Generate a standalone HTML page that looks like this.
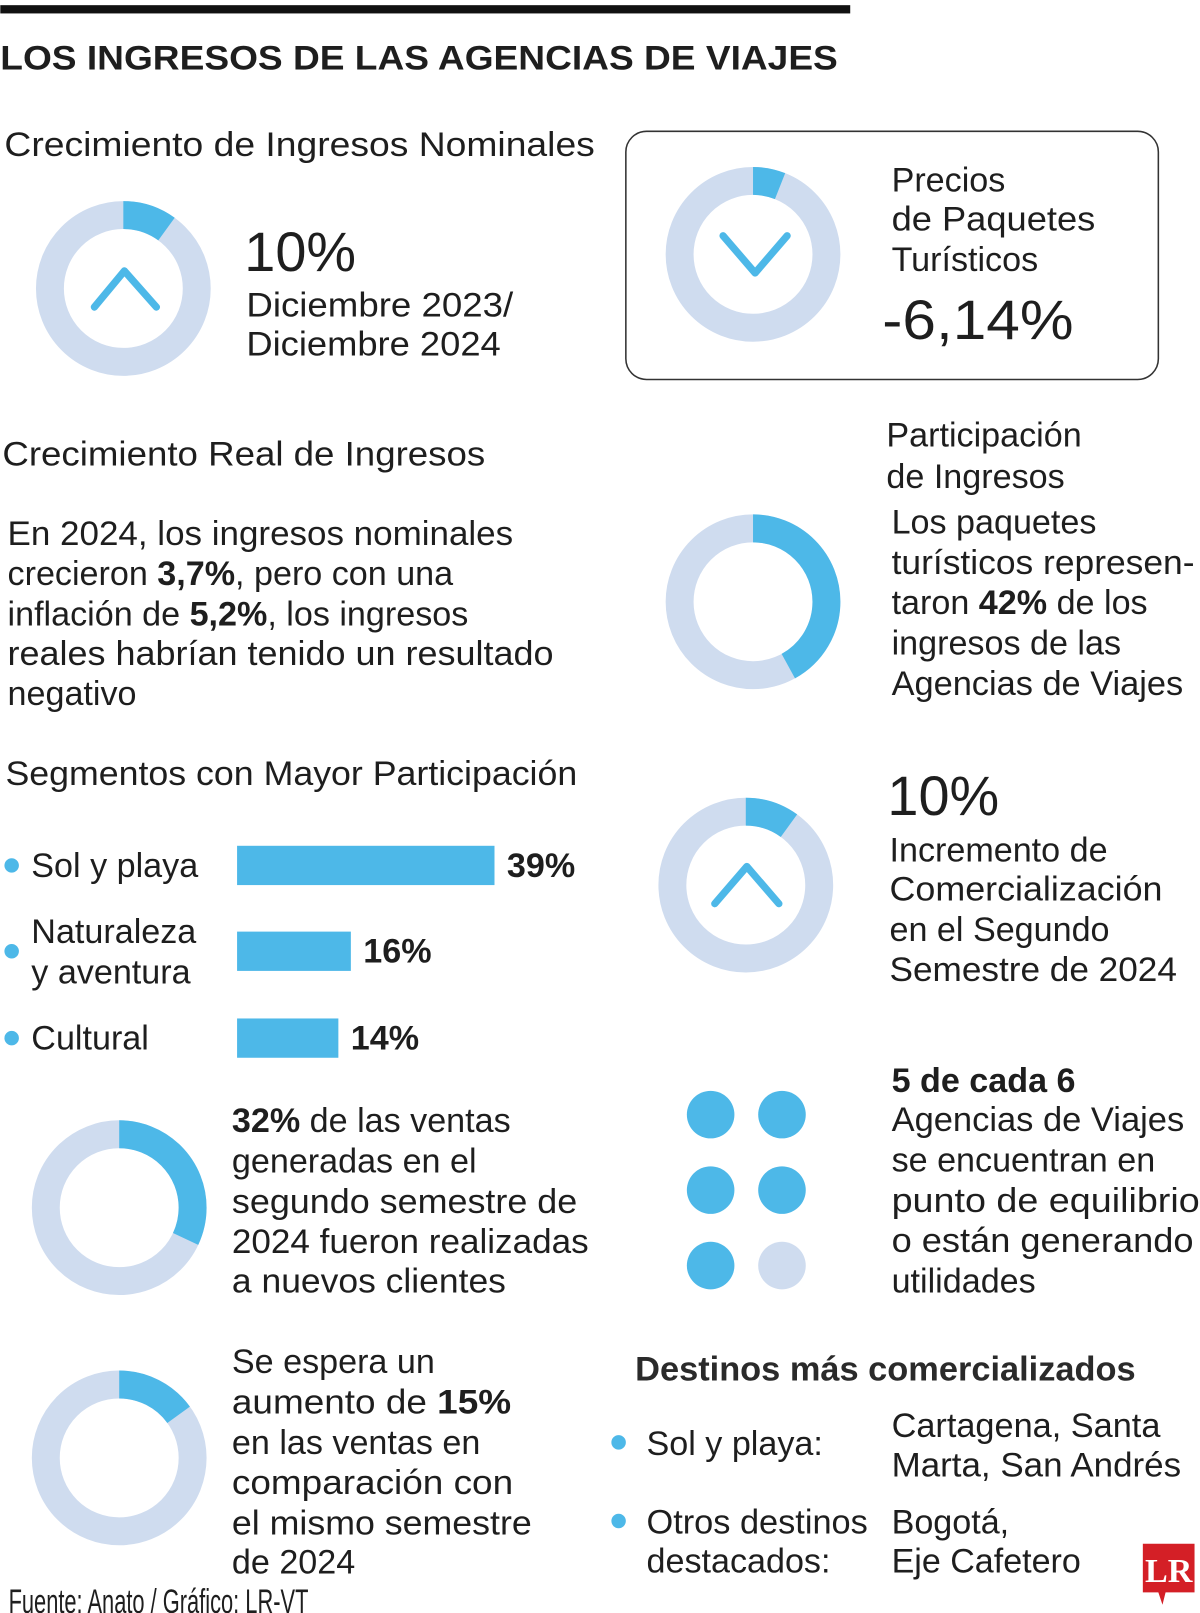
<!DOCTYPE html>
<html><head><meta charset="utf-8"><style>
html,body{margin:0;padding:0;background:#fff;}
svg{display:block;}
text{font-family:"Liberation Sans",sans-serif;fill:#1e1e1e;font-size:33px;}
.b{font-weight:bold;}
.big{font-size:54px;}
</style></head><body>
<svg id="chart" width="1200" height="1613" viewBox="0 0 1160 1560">
<rect x="0" y="5" width="822" height="8" fill="#111"/>
<text x="0" y="67" class="b" font-size="44" textLength="810" lengthAdjust="spacingAndGlyphs">LOS INGRESOS DE LAS AGENCIAS DE VIAJES</text>

<text x="4" y="151" textLength="571" lengthAdjust="spacingAndGlyphs">Crecimiento de Ingresos Nominales</text>
<g id="donuts"></g>
<polyline points="91,297 120,262 151,297" fill="none" stroke="#4db8e8" stroke-width="7" stroke-linecap="round" stroke-linejoin="round"/>
<text x="236" y="262" class="big">10%</text>
<text x="238" y="306" textLength="258" lengthAdjust="spacingAndGlyphs">Diciembre 2023/</text>
<text x="238" y="344" textLength="246" lengthAdjust="spacingAndGlyphs">Diciembre 2024</text>

<rect x="605" y="127" width="515" height="240" rx="20" fill="none" stroke="#333" stroke-width="1.5"/>
<polyline points="699,228 730,264 761,228" fill="none" stroke="#4db8e8" stroke-width="7" stroke-linecap="round" stroke-linejoin="round"/>
<text x="862" y="185">Precios</text>
<text x="862" y="223" textLength="197" lengthAdjust="spacingAndGlyphs">de Paquetes</text>
<text x="862" y="262">Turísticos</text>
<text x="853" y="328" class="big" textLength="185" lengthAdjust="spacingAndGlyphs">-6,14%</text>

<text x="2" y="450" textLength="467" lengthAdjust="spacingAndGlyphs">Crecimiento Real de Ingresos</text>
<g>
<text x="7" y="527" textLength="489" lengthAdjust="spacingAndGlyphs">En 2024, los ingresos nominales</text>
<text x="7" y="566">crecieron <tspan class="b">3,7%</tspan>, pero con una</text>
<text x="7" y="605">inflación de <tspan class="b">5,2%</tspan>, los ingresos</text>
<text x="7" y="643" textLength="528" lengthAdjust="spacingAndGlyphs">reales habrían tenido un resultado</text>
<text x="7" y="682">negativo</text>
</g>

<text x="857" y="432">Participación</text>
<text x="857" y="472">de Ingresos</text>
<g>
<text x="862" y="516">Los paquetes</text>
<text x="862" y="555" textLength="293" lengthAdjust="spacingAndGlyphs">turísticos represen-</text>
<text x="862" y="594">taron <tspan class="b">42%</tspan> de los</text>
<text x="862" y="633">ingresos de las</text>
<text x="862" y="672" textLength="282" lengthAdjust="spacingAndGlyphs">Agencias de Viajes</text>
</g>

<text x="5" y="759" textLength="553" lengthAdjust="spacingAndGlyphs">Segmentos con Mayor Participación</text>
<g id="bars"></g>

<g>
<text x="224" y="1095"><tspan class="b">32%</tspan> de las ventas</text>
<text x="224" y="1134">generadas en el</text>
<text x="224" y="1173" textLength="334" lengthAdjust="spacingAndGlyphs">segundo semestre de</text>
<text x="224" y="1212" textLength="345" lengthAdjust="spacingAndGlyphs">2024 fueron realizadas</text>
<text x="224" y="1250" textLength="265" lengthAdjust="spacingAndGlyphs">a nuevos clientes</text>
</g>
<g>
<text x="224" y="1328">Se espera un</text>
<text x="224" y="1367" textLength="270" lengthAdjust="spacingAndGlyphs">aumento de <tspan class="b">15%</tspan></text>
<text x="224" y="1406">en las ventas en</text>
<text x="224" y="1445" textLength="272" lengthAdjust="spacingAndGlyphs">comparación con</text>
<text x="224" y="1484" textLength="290" lengthAdjust="spacingAndGlyphs">el mismo semestre</text>
<text x="224" y="1522">de 2024</text>
</g>

<polyline points="691,874 722,838 753,874" fill="none" stroke="#4db8e8" stroke-width="7" stroke-linecap="round" stroke-linejoin="round"/>
<text x="858" y="788" class="big">10%</text>
<g>
<text x="860" y="833">Incremento de</text>
<text x="860" y="871" textLength="264" lengthAdjust="spacingAndGlyphs">Comercialización</text>
<text x="860" y="910">en el Segundo</text>
<text x="860" y="949" textLength="278" lengthAdjust="spacingAndGlyphs">Semestre de 2024</text>
</g>

<g id="dots"></g>
<g>
<text x="862" y="1056" class="b">5 de cada 6</text>
<text x="862" y="1094" textLength="283" lengthAdjust="spacingAndGlyphs">Agencias de Viajes</text>
<text x="862" y="1133">se encuentran en</text>
<text x="862" y="1172" textLength="298" lengthAdjust="spacingAndGlyphs">punto de equilibrio</text>
<text x="862" y="1211" textLength="292" lengthAdjust="spacingAndGlyphs">o están generando</text>
<text x="862" y="1250">utilidades</text>
</g>

<text x="614" y="1335" textLength="484" lengthAdjust="spacingAndGlyphs" style="font-weight:bold;fill:#2a2a2a" font-size="32">Destinos más comercializados</text>
<circle cx="598" cy="1395" r="7" fill="#4db8e8"/>
<text x="625" y="1407">Sol y playa:</text>
<text x="862" y="1390" textLength="260" lengthAdjust="spacingAndGlyphs">Cartagena, Santa</text>
<text x="862" y="1428" textLength="280" lengthAdjust="spacingAndGlyphs">Marta, San Andrés</text>
<circle cx="598" cy="1471" r="7" fill="#4db8e8"/>
<text x="625" y="1483" textLength="214" lengthAdjust="spacingAndGlyphs">Otros destinos</text>
<text x="625" y="1521">destacados:</text>
<text x="862" y="1483">Bogotá,</text>
<text x="862" y="1521" textLength="183" lengthAdjust="spacingAndGlyphs">Eje Cafetero</text>

<g>
<path d="M1105,1493 H1155 V1540 H1127 L1124,1552 L1120,1540 H1105 Z" fill="#d41f26"/>
<text x="1130" y="1530" font-size="30" font-weight="bold" text-anchor="middle" style="fill:#fff;font-family:'Liberation Serif',serif">LR</text>
</g>
<text x="8" y="1560" font-size="20" textLength="290" lengthAdjust="spacingAndGlyphs">Fuente: Anato / Gráfico: LR-VT</text>
</svg>
<script>
const donutNames = ['nominal-growth-donut','price-donut','share-donut','new-clients-donut','sales-increase-donut','commercialization-donut'];
const donutValues = [10, 6, 42, 32, 15, 10];
const donutCx = [119, 728, 728, 115, 115, 721];
const donutCy = [279, 246, 582, 1168, 1410, 856];
const barCategories = ['Sol y playa', 'Naturaleza y aventura', 'Cultural'];
const barValues = [39, 16, 14];
const barLabels = ['39%', '16%', '14%'];
const dotFilled = [1, 1, 1, 1, 1, 0];

const NS = 'http://www.w3.org/2000/svg';
const BLUE = '#4db8e8', LIGHT = '#cfdcef';
function mk(tag, attrs, parent){const e=document.createElementNS(NS,tag);for(const k in attrs)e.setAttribute(k,attrs[k]);parent.appendChild(e);return e;}

const dg = document.getElementById('donuts');
const R = 71, W = 27, C = 2*Math.PI*R;
donutValues.forEach((v,i)=>{
  const g = mk('g',{},dg);
  
  
  const ring = mk('circle',{cx:donutCx[i],cy:donutCy[i],r:R,fill:'none',stroke:LIGHT,'stroke-width':W},g);
  
  
  const arc = mk('circle',{cx:donutCx[i],cy:donutCy[i],r:R,fill:'none',stroke:BLUE,'stroke-width':W,
    'stroke-dasharray':(C*v/100)+' '+C,transform:'rotate(-90 '+donutCx[i]+' '+donutCy[i]+')'},g);
  
  
});

const bg = document.getElementById('bars');
const x0 = 229, pxPer = 6.04, off = 13.4;
const rowTop = [818, 901, 985];
const barH = 38;
barValues.forEach((v,i)=>{
  const y = rowTop[i], w = off + pxPer*v;
  const dot = mk('circle',{cx:11,cy:y+barH/2,r:7,fill:BLUE},bg);
  
  
  const cat = barCategories[i];
  if (cat.indexOf(' y aventura')>0){
    const t1 = mk('text',{x:30,y:y+11},bg); t1.textContent='Naturaleza';
    
    
    const t2 = mk('text',{x:30,y:y+50},bg); t2.textContent='y aventura';
    
    
  } else {
    const t = mk('text',{x:30,y:y+30},bg); t.textContent=cat;
    
    
  }
  const r = mk('rect',{x:x0,y:y,width:w,height:barH,fill:BLUE},bg);
  
  
  const l = mk('text',{x:x0+w+12,y:y+30,'font-weight':'bold'},bg); l.textContent=barLabels[i];
  
  
});

const dots = document.getElementById('dots');
dotFilled.forEach((f,i)=>{
  const c = mk('circle',{cx:687+(i%2)*69,cy:1078+Math.floor(i/2)*73,r:23,fill:f?BLUE:LIGHT},dots);
  
  
});
</script>
</body></html>
